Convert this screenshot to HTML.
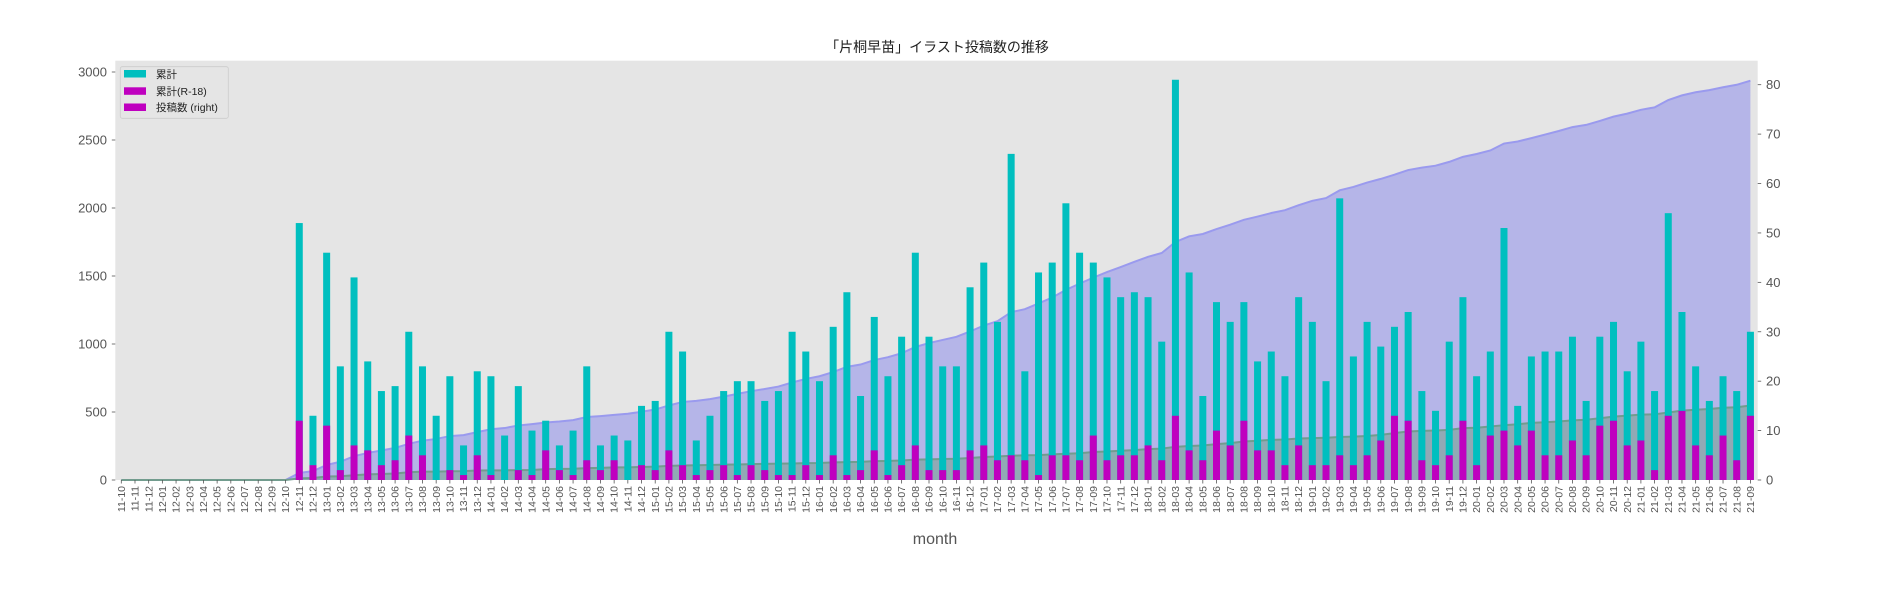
<!DOCTYPE html>
<html><head><meta charset="utf-8">
<style>
html,body{margin:0;padding:0;background:#fff;}
svg{display:block;font-family:"Liberation Sans","Noto Sans CJK JP",sans-serif;}
</style></head>
<body>
<svg id="chart" width="1900" height="600" viewBox="0 0 1900 600" xmlns="http://www.w3.org/2000/svg">
<text x="937" y="52" text-anchor="middle" font-size="14" fill="#222">「片桐早苗」イラスト投稿数の推移</text>
<rect x="115.3" y="60.7" width="1642.4" height="419.3" fill="#e5e5e5"/>
<g id="areas"></g>
<g id="bars"></g>
<g id="xaxis"></g>
<g id="yleft"></g>
<g id="yright"></g>
<text x="935" y="544" text-anchor="middle" font-size="16" fill="#555">month</text>
<g>
<rect x="120.3" y="66.7" width="108" height="51.6" fill="#e5e5e5" stroke="#cccccc" stroke-width="0.8" rx="2"/>
<g><rect x="124" y="70" width="22" height="7.5" fill="#00bfbf"/><text x="156" y="78" font-size="10.5" fill="#222">累計</text></g>
<g><rect x="124" y="87.3" width="22" height="7.5" fill="#bf00bf"/><text x="156" y="95" font-size="10.5" fill="#222">累計(R-18)</text></g>
<g><rect x="124" y="103.5" width="22" height="7.5" fill="#bf00bf"/><text x="156" y="111" font-size="10.5" fill="#222">投稿数 (right)</text></g>
</g>
</svg>
<script>
const posts = [0,0,0,0,0,0,0,0,0,0,0,0,0,
52,13,46,23,41,24,18,19,30,23,13,21,7,22,21,9,19,10,12,7,10,23,
7,9,8,15,16,30,26,8,13,18,20,20,16,18,30,26,20,31,38,17,33,21,
29,46,29,23,23,39,44,32,66,22,42,44,56,46,44,41,37,38,37,28,81,
42,17,36,32,36,24,26,21,37,32,20,57,25,32,27,31,34,18,14,28,37,21,
26,51,15,25,26,26,29,16,29,32,22,28,18,54,34,23,16,21,18,30];
const postsR18 = [0,0,0,0,0,0,0,0,0,0,0,0,0,
12,3,11,2,7,6,3,4,9,5,0,2,1,5,1,0,2,1,6,2,1,4,
2,4,0,3,2,6,3,1,2,3,1,3,2,1,1,3,1,5,1,2,6,1,
3,7,2,2,2,6,7,4,5,4,1,5,5,4,9,4,5,5,7,4,13,
6,4,10,7,12,6,6,3,7,3,3,5,3,5,8,13,12,4,3,5,12,3,
9,10,7,10,5,5,8,5,11,12,7,8,2,13,14,7,5,9,4,13];
const leftTicks = [0,500,1000,1500,2000,2500,3000];
const rightTicks = [0,10,20,30,40,50,60,70,80];
const months = [];
for (let i = 0; i < posts.length; i++) {
  const m0 = 9 + i; const yy = 11 + Math.floor(m0 / 12); const mm = (m0 % 12) + 1;
  months.push(String(yy) + '-' + String(mm).padStart(2, '0'));
}
const NS = 'http://www.w3.org/2000/svg';
const X0 = 121.3, XSTEP = 13.69, YB = 480;
const xPos = i => X0 + i * XSTEP;
const yLeft = v => YB - v * (408 / 3000);
const yRight = v => YB - v * (395.3 / 80);
function mk(tag, attrs, parent) { const e = document.createElementNS(NS, tag); for (const k in attrs) e.setAttribute(k, attrs[k]); parent.appendChild(e); return e; }
// cumulative
const cum = [], cumR = []; let a = 0, b = 0;
for (let i = 0; i < posts.length; i++) { a += posts[i]; b += postsR18[i]; cum.push(a); cumR.push(b); }
const areas = document.getElementById('areas');
function areaPath(arr) {
  let d = 'M' + xPos(0) + ',' + YB;
  arr.forEach((v, i) => { d += ' L' + xPos(i).toFixed(2) + ',' + yLeft(v).toFixed(2); });
  d += ' L' + xPos(arr.length - 1) + ',' + YB + ' Z';
  return d;
}
function linePath(arr) { return arr.map((v, i) => (i ? 'L' : 'M') + xPos(i).toFixed(2) + ',' + yLeft(v).toFixed(2)).join(' '); }
const pa = mk('path', { d: areaPath(cum), fill: '#b5b5e8' }, areas);


const pl = mk('path', { d: linePath(cum), fill: 'none', stroke: '#9a9aee', 'stroke-width': 2 }, areas);


const ga = mk('path', { d: areaPath(cumR), fill: '#91a9b5' }, areas);


const gl = mk('path', { d: linePath(cumR), fill: 'none', stroke: '#729c8e', 'stroke-width': 2 }, areas);


// bars
const bars = document.getElementById('bars');
const BW = 7;
posts.forEach((v, i) => {
  if (v <= 0) return;
  const r = mk('rect', { x: xPos(i) - BW / 2, y: yRight(v), width: BW, height: YB - yRight(v), fill: '#00bfbf' }, bars);
  
  
});
postsR18.forEach((v, i) => {
  if (v <= 0) return;
  const r = mk('rect', { x: xPos(i) - BW / 2, y: yRight(v), width: BW, height: YB - yRight(v), fill: '#bf00bf' }, bars);
  
  
});
// x axis
const xa = document.getElementById('xaxis');
months.forEach((m, i) => {
  const x = xPos(i);
  mk('line', { x1: x, x2: x, y1: YB, y2: YB + 3.5, stroke: '#555', 'stroke-width': 0.8 }, xa);
  const t = mk('text', { x: 0, y: 0, 'font-size': 10.5, fill: '#555', 'text-anchor': 'end', transform: 'translate(' + (x + 3.6) + ',' + (YB + 6) + ') rotate(-90)' }, xa);
  t.textContent = m;
  
  
});
// left axis
const yl = document.getElementById('yleft');
leftTicks.forEach(v => {
  const y = yLeft(v);
  mk('line', { x1: 111.8, x2: 115.3, y1: y, y2: y, stroke: '#555', 'stroke-width': 0.8 }, yl);
  const t = mk('text', { x: 107, y: y + 4.5, 'font-size': 13, fill: '#555', 'text-anchor': 'end' }, yl);
  t.textContent = v;
  
  
});
// right axis
const yr = document.getElementById('yright');
rightTicks.forEach(v => {
  const y = yRight(v);
  mk('line', { x1: 1757.7, x2: 1761.2, y1: y, y2: y, stroke: '#555', 'stroke-width': 0.8 }, yr);
  const t = mk('text', { x: 1766, y: y + 4.5, 'font-size': 13, fill: '#555', 'text-anchor': 'start' }, yr);
  t.textContent = v;
  
  
});
</script>
</body></html>
